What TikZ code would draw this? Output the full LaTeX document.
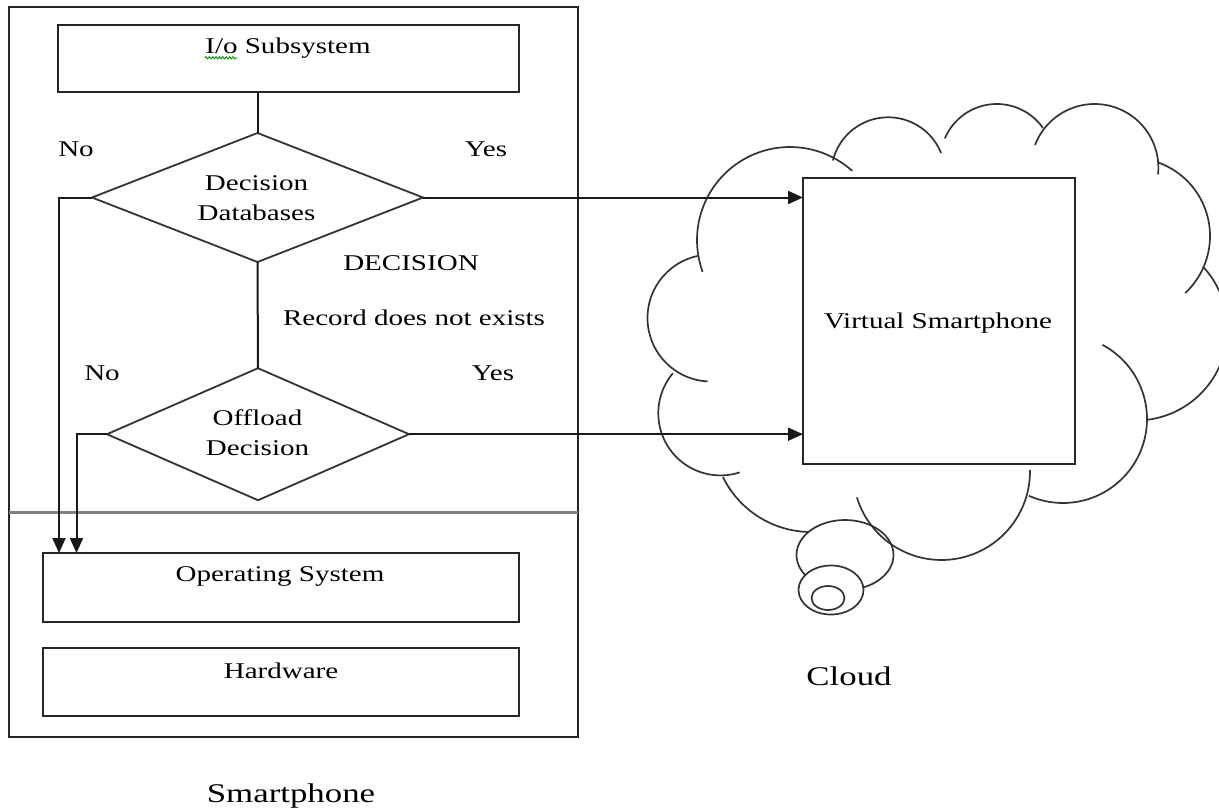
\documentclass[tikz,border=0pt]{standalone}
\usepackage{fontspec}
\setmainfont{Liberation Serif}[FakeStretch=1.29]
\usetikzlibrary{arrows.meta,shapes.geometric,decorations.pathmorphing}

% one lobe of the cloud outline: centre x, centre y, radius, start angle, end angle
\newcommand{\cloudlobe}[5]{%
  \draw[lobe] plot[domain=#4:#5, samples=60, variable=\t]
    ({#1+#3*cos(\t)},{#2+#3*sin(\t)});}

\begin{document}
\begin{tikzpicture}[x=1pt,y=-1pt,
  box/.style={draw=black!85, line width=2.2pt, rectangle, inner sep=0pt, outer sep=0pt},
  dia/.style={draw=black!80, line width=1.8pt, diamond, inner sep=0pt, outer sep=0pt},
  txt/.style={font=\fontsize{22.5}{27}\selectfont, inner sep=0pt, text=black, anchor=base},
  bigtxt/.style={font=\fontsize{27}{32}\selectfont, inner sep=0pt, text=black, anchor=base},
  link/.style={draw=black!90, line width=2pt},
  arr/.style={link, -{Triangle[length=15pt,width=13pt]}},
  lobe/.style={draw=black!80, line width=1.7pt},
  divider/.style={draw=black!50, line width=2.4pt},
]
\useasboundingbox (0,0) rectangle (1219,809);
\clip (0,0) rectangle (1219,809);

% ---------------- smartphone ----------------
\node[box, minimum width=569pt, minimum height=730pt] (frame) at (293.5,372.3) {};
\coordinate (sep) at (0,512.3);
\draw[divider] (frame.west |- sep) -- (frame.east |- sep);

\node[box, minimum width=461pt, minimum height=67pt] (io) at (288.5,58.5) {};
\node[txt] (iotext) at (288,53.5) {I/o Subsystem};
\draw[green!55!black, line width=0.9pt, decorate,
      decoration={zigzag, segment length=3.4pt, amplitude=1.1pt}]
  (205,57.8) -- (237,57.8);

\node[dia, minimum width=331pt, minimum height=129pt] (d1) at (257.5,197.5) {};
\node[txt] (d1a) at (256.5,190) {Decision};
\node[txt] (d1b) at (256.5,220) {Databases};

\node[dia, minimum width=302pt, minimum height=132pt] (d2) at (258,434.2) {};
\node[txt] (d2a) at (257.5,425) {Offload};
\node[txt] (d2b) at (257.5,455) {Decision};

\node[box, minimum width=476pt, minimum height=69pt] (os) at (281,587.5) {};
\node[txt] (ostext) at (280,581.7) {Operating System};
\node[box, minimum width=476pt, minimum height=68pt] (hw) at (281,682) {};
\node[txt] (hwtext) at (281,678.3) {Hardware};

\node[txt] (no1) at (76,156) {No};
\node[txt] (yes1) at (486,156) {Yes};
\node[txt] (dectext) at (411,270.7) {DECISION};
\node[txt] (rectext) at (414,325) {Record does not exists};
\node[txt] (no2) at (102,380.7) {No};
\node[txt] (yes2) at (493,380.7) {Yes};

\node[bigtxt] (phone) at (291,802) {Smartphone};

% ---------------- cloud ----------------
\node[box, minimum width=272pt, minimum height=286pt] (vs) at (939,321) {};
\node[txt] (vstext) at (938,328.3) {Virtual Smartphone};

\cloudlobe{790}{240}{93}{160}{312}
\cloudlobe{711}{318}{63.5}{93}{258}
\cloudlobe{720.5}{413.2}{62.2}{72}{220}
\cloudlobe{811}{434}{98}{80}{154}
\cloudlobe{1063}{419}{84}{-62}{114}
\cloudlobe{1136}{329}{91.5}{-43}{83}
\cloudlobe{1132}{236}{78}{-71}{47}
\cloudlobe{1094.6}{167.8}{63.8}{201}{366}
\cloudlobe{996.8}{160.4}{56.4}{203}{325}
\cloudlobe{888.2}{174.3}{57}{194}{338}

% thought bubbles under the cloud
\draw[lobe, fill=white] (845,555) ellipse [x radius=48.5, y radius=35];
\draw[lobe, fill=white] (831,590) ellipse [x radius=32.5, y radius=24.5];
\draw[lobe] (828,598) ellipse [x radius=16.5, y radius=12];
\cloudlobe{941.5}{471.5}{88.5}{-1}{163}

\node[bigtxt] (cloudtext) at (849,685.5) {Cloud};

% ---------------- connectors ----------------
\draw[link] (io.south -| d1.north) -- (d1.north);
\draw[link] (d1.south) -- (d2.north);
\draw[arr] (d1.east) -- (d1.east -| vs.west);
\draw[arr] (d2.east) -- (d2.east -| vs.west);
\draw[arr] (d1.west) -| ([xshift=16pt]os.north west);
\draw[arr] (d2.west) -| ([xshift=33.5pt]os.north west);
\end{tikzpicture}
\end{document}
